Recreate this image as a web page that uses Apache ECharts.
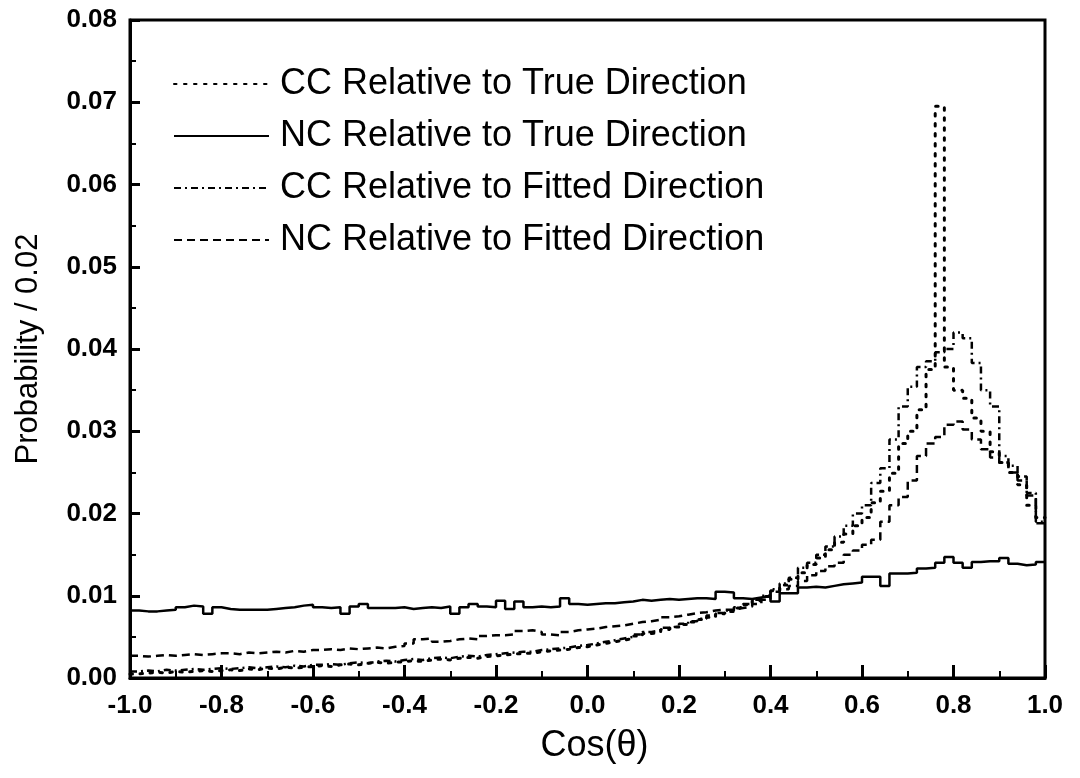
<!DOCTYPE html>
<html>
<head>
<meta charset="utf-8">
<script src="https://cdn.jsdelivr.net/npm/echarts@6/dist/echarts.min.js"></script>
<style>
html,body{margin:0;padding:0;background:#fff;}
#chart{width:1080px;height:778px;}
</style>
</head>
<body>
<div id="chart"></div>
<script>
// Histogram bins: 100 bins of width 0.02 from -1.0 to 1.0
const binStart = -1.0;
const binWidth = 0.02;
const xTickLabels = ['-1.0','-0.8','-0.6','-0.4','-0.2','0.0','0.2','0.4','0.6','0.8','1.0'];
const yTickLabels = ['0.00','0.01','0.02','0.03','0.04','0.05','0.06','0.07','0.08'];
const seriesNames = [
  'CC Relative to True Direction',
  'NC Relative to True Direction',
  'CC Relative to Fitted Direction',
  'NC Relative to Fitted Direction'
];

// CC relative to true direction (dotted)
const ccTrue = [
  0.0005,0.0006,0.0007,0.0006,0.0008,0.0007,0.0008,0.0009,0.0008,0.0009,
  0.0010,0.0009,0.0011,0.0010,0.0012,0.0011,0.0013,0.0012,0.0013,0.0014,
  0.0015,0.0014,0.0016,0.0017,0.0016,0.0018,0.0019,0.0018,0.0019,0.0020,
  0.0021,0.0020,0.0022,0.0023,0.0022,0.0024,0.0025,0.0024,0.0026,0.0027,
  0.0028,0.0029,0.0030,0.0030,0.0032,0.0033,0.0034,0.0035,0.0037,0.0038,
  0.0040,0.0042,0.0044,0.0046,0.0048,0.0051,0.0054,0.0056,0.0059,0.0062,
  0.0065,0.0068,0.0071,0.0074,0.0078,0.0081,0.0085,0.0089,0.0094,0.0099,
  0.0106,0.0113,0.0120,0.0128,0.0138,0.0146,0.0156,0.0165,0.0175,0.0185,
  0.0195,0.0213,0.0227,0.0249,0.0285,0.0300,0.0326,0.0375,0.0695,0.0378,
  0.0350,0.0340,0.0316,0.0300,0.0275,0.0262,0.0250,0.0235,0.0210,0.0195
];

// NC relative to true direction (solid)
const ncTrue = [
  0.0082,0.0081,0.0081,0.0082,0.0083,0.0086,0.0088,0.0087,0.0078,0.0086,
  0.0084,0.0083,0.0083,0.0083,0.0083,0.0084,0.0085,0.0086,0.0088,0.0089,
  0.0086,0.0085,0.0086,0.0078,0.0087,0.0090,0.0085,0.0085,0.0085,0.0086,
  0.0084,0.0085,0.0086,0.0085,0.0087,0.0078,0.0086,0.0090,0.0087,0.0086,
  0.0094,0.0084,0.0093,0.0086,0.0087,0.0086,0.0087,0.0097,0.0090,0.0089,
  0.0090,0.0091,0.0091,0.0092,0.0093,0.0095,0.0094,0.0095,0.0096,0.0095,
  0.0096,0.0097,0.0097,0.0096,0.0105,0.0104,0.0097,0.0096,0.0098,0.0100,
  0.0093,0.0103,0.0103,0.0110,0.0111,0.0110,0.0112,0.0114,0.0115,0.0116,
  0.0123,0.0123,0.0112,0.0127,0.0127,0.0128,0.0133,0.0134,0.0140,0.0147,
  0.0140,0.0134,0.0141,0.0142,0.0142,0.0146,0.0139,0.0137,0.0138,0.0141
];

// CC relative to fitted direction (dash-dot)
const ccFitted = [
  0.0008,0.0009,0.0008,0.0010,0.0009,0.0010,0.0011,0.0010,0.0011,0.0012,
  0.0011,0.0012,0.0013,0.0012,0.0013,0.0014,0.0013,0.0015,0.0014,0.0016,
  0.0016,0.0017,0.0016,0.0018,0.0019,0.0018,0.0020,0.0021,0.0020,0.0022,
  0.0023,0.0022,0.0024,0.0025,0.0024,0.0026,0.0027,0.0026,0.0028,0.0029,
  0.0030,0.0031,0.0032,0.0032,0.0034,0.0035,0.0036,0.0037,0.0039,0.0040,
  0.0042,0.0044,0.0046,0.0048,0.0050,0.0053,0.0056,0.0058,0.0061,0.0063,
  0.0066,0.0069,0.0072,0.0076,0.0079,0.0082,0.0086,0.0090,0.0095,0.0100,
  0.0108,0.0115,0.0122,0.0134,0.0140,0.0150,0.0160,0.0172,0.0185,0.0200,
  0.0210,0.0237,0.0255,0.0290,0.0330,0.0354,0.0378,0.0385,0.0396,0.0400,
  0.0420,0.0413,0.0383,0.0350,0.0330,0.0270,0.0258,0.0245,0.0225,0.0190
];

// NC relative to fitted direction (dashed)
const ncFitted = [
  0.0027,0.0026,0.0027,0.0028,0.0027,0.0028,0.0029,0.0028,0.0029,0.0030,
  0.0030,0.0029,0.0031,0.0030,0.0031,0.0032,0.0031,0.0033,0.0032,0.0034,
  0.0034,0.0035,0.0034,0.0036,0.0035,0.0036,0.0037,0.0036,0.0038,0.0039,
  0.0042,0.0047,0.0048,0.0044,0.0045,0.0047,0.0048,0.0047,0.0051,0.0052,
  0.0052,0.0053,0.0057,0.0058,0.0056,0.0053,0.0052,0.0056,0.0058,0.0059,
  0.0060,0.0062,0.0063,0.0064,0.0066,0.0068,0.0069,0.0071,0.0074,0.0075,
  0.0077,0.0079,0.0080,0.0082,0.0083,0.0083,0.0085,0.0087,0.0090,0.0095,
  0.0105,0.0108,0.0112,0.0118,0.0125,0.0130,0.0136,0.0140,0.0150,0.0155,
  0.0162,0.0168,0.0190,0.0210,0.0220,0.0240,0.0270,0.0285,0.0293,0.0308,
  0.0312,0.0302,0.0290,0.0278,0.0268,0.0262,0.0250,0.0240,0.0222,0.0188
];

function toSteps(values) {
  const pts = values.map((v, i) => [binStart + i * binWidth, v]);
  pts.push([binStart + values.length * binWidth, values[values.length - 1]]);
  return pts;
}

const FONT = '"Liberation Sans", Arial, Helvetica, sans-serif';
const lineStyles = [
  { type: [2.5, 7.5], width: 3, cap: 'round' },
  { type: 'solid', width: 2.5 },
  { type: [7, 4, 2, 4], width: 2.5 },
  { type: [8, 5], width: 2.5 }
];
const allValues = [ccTrue, ncTrue, ccFitted, ncFitted];

const chart = echarts.init(document.getElementById('chart'), null, { renderer: 'canvas' });
chart.setOption({
  backgroundColor: '#fff',
  animation: false,
  grid: {
    left: 130, right: 35, top: 20, bottom: 100,
    show: true, borderColor: '#000', borderWidth: 3, backgroundColor: 'transparent'
  },
  legend: {
    orient: 'vertical',
    left: 168, top: 61,
    itemWidth: 95, itemHeight: 14, itemGap: 16,
    data: seriesNames,
    itemStyle: { opacity: 0 },
    textStyle: { fontFamily: FONT, fontSize: 36, color: '#000', padding: [0, 0, 0, 6] },
    selectedMode: false
  },
  xAxis: {
    type: 'value', min: -1, max: 1, interval: 0.2,
    name: 'Cos(θ)', nameLocation: 'middle', nameGap: 50,
    nameTextStyle: { fontFamily: FONT, fontSize: 36, color: '#000', padding: [0, 0, 0, 14] },
    axisLine: { onZero: false, lineStyle: { color: '#000', width: 3 } },
    axisTick: { inside: true, length: 13, lineStyle: { color: '#000', width: 3 } },
    minorTick: { show: true, splitNumber: 2, length: 7, lineStyle: { color: '#000', width: 2 } },
    splitLine: { show: false },
    axisLabel: {
      margin: 15, fontFamily: FONT, fontSize: 26, fontWeight: 'bold', color: '#000',
      formatter: v => xTickLabels[Math.round((v + 1) / 0.2)]
    }
  },
  yAxis: {
    type: 'value', min: 0, max: 0.08, interval: 0.01,
    name: 'Probability / 0.02', nameLocation: 'middle', nameGap: 86, nameRotate: 90,
    nameTextStyle: { fontFamily: FONT, fontSize: 31, color: '#000' },
    axisLine: { onZero: false, lineStyle: { color: '#000', width: 3 } },
    axisTick: { inside: true, length: 10, lineStyle: { color: '#000', width: 3 } },
    minorTick: { show: true, splitNumber: 2, length: 6, lineStyle: { color: '#000', width: 2 } },
    splitLine: { show: false },
    axisLabel: {
      margin: 13, fontFamily: FONT, fontSize: 26, fontWeight: 'bold', color: '#000',
      formatter: v => yTickLabels[Math.round(v / 0.01)]
    }
  },
  series: seriesNames.map((name, k) => ({
    name: name,
    type: 'line',
    step: 'end',
    symbol: 'none',
    showSymbol: false,
    color: '#000',
    lineStyle: Object.assign({ color: '#000' }, lineStyles[k]),
    data: toSteps(allValues[k])
  }))
});
</script>
</body>
</html>
